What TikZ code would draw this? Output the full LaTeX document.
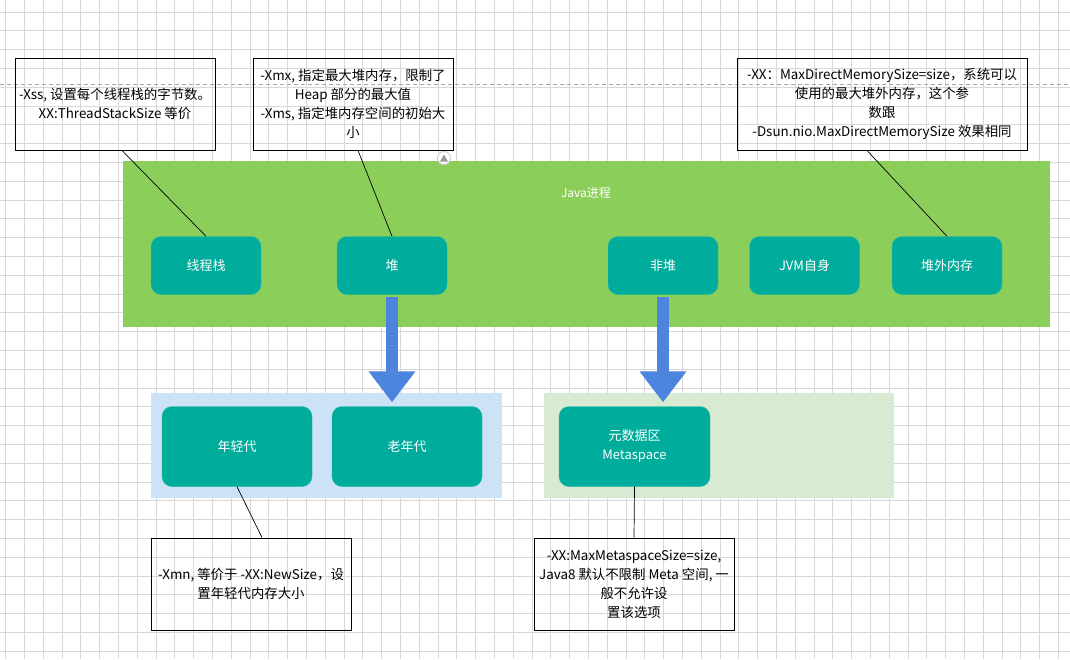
\documentclass[tikz,border=0pt]{standalone}
\usepackage{fontspec}
\setmainfont{Noto Sans CJK SC}
\usetikzlibrary{arrows.meta}
\definecolor{procgreen}{RGB}{139,207,90}
\definecolor{tealnode}{RGB}{0,172,155}
\definecolor{arrowblue}{RGB}{77,132,222}
\definecolor{lightblue}{RGB}{204,226,247}
\definecolor{lightgreen}{RGB}{217,234,211}
\definecolor{gridgray}{RGB}{216,216,216}
\tikzset{
  gridline/.style={draw=gridgray, line width=0.7pt},
  notebox/.style={draw=black, line width=0.9pt, inner sep=0pt, minimum width=200pt, minimum height=92pt,
    align=center, font=\fontsize{13.4}{19}\selectfont, text=black},
  tealbox/.style={fill=tealnode, draw=tealnode!85!white, rounded corners=10pt, inner sep=0pt,
    minimum width=110pt, minimum height=58pt, text=white, align=center, font=\fontsize{13}{19}\selectfont},
  genbox/.style={tealbox, minimum width=150pt, minimum height=80pt},
  conn/.style={draw=black, line width=0.7pt},
  bigarrow/.style={draw=arrowblue, line width=12pt, -{Triangle[width=45pt,length=31pt]},
    shorten <=2pt, shorten >=4pt},
}
\begin{document}
\begin{tikzpicture}[x=1pt,y=-1pt]
\useasboundingbox (0,0) rectangle (1070,659);
\fill[white] (0,0) rectangle (1070,659);
% grid
\foreach \i in {0,...,56} { \draw[gridline] ({5.5+18.8*\i},0) -- ({5.5+18.8*\i},659); }
\foreach \j in {0,...,35} { \draw[gridline] (0,{-6.8+18.8*\j}) -- (1070,{-6.8+18.8*\j}); }
% dashed guide line
\draw[gray!70, dashed, dash pattern=on 4pt off 3pt, line width=0.7pt] (0,84) -- (1070,84);

% top note boxes
\node[notebox] (boxA) at (115,104) {-Xss, 设置每个线程栈的字节数。\\XX:ThreadStackSize 等价};
\node[notebox] (boxB) at (353,104) {-Xmx, 指定最大堆内存，限制了\\Heap 部分的最大值\\-Xms, 指定堆内存空间的初始大\\小};
\node[notebox, minimum width=290pt] (boxC) at (882,104) {-XX：MaxDirectMemorySize=size，系统可以\\使用的最大堆外内存，这个参\\数跟\\-Dsun.nio.MaxDirectMemorySize 效果相同};

% java process container
\node[fill=procgreen, minimum width=927pt, minimum height=166pt, inner sep=0pt] (java) at (586.5,244) {};
\node[text=white, font=\fontsize{12}{14}\selectfont] (javatitle) at (586,193) {Java进程};

% small UI icon
\node[circle, draw=gray!35, fill=white, minimum size=13pt, inner sep=0pt, line width=1pt] (icon) at (444,158) {};
\fill[gray!80] (440,161.5) -- (448,161.5) -- (444,154.5) -- cycle;

% components
\node[tealbox] (tz) at (206,265.5) {线程栈};
\node[tealbox] (heap) at (392,265.5) {堆};
\node[tealbox] (nonheap) at (663,265.5) {非堆};
\node[tealbox] (jvm) at (804.5,265.5) {JVM自身};
\node[tealbox] (offheap) at (947,265.5) {堆外内存};

% lower containers
\node[fill=lightblue, minimum width=351pt, minimum height=105pt, inner sep=0pt] (bluebg) at (326.5,445.5) {};
\node[fill=lightgreen, minimum width=350pt, minimum height=105pt, inner sep=0pt] (greenbg) at (719,445.5) {};

\node[genbox] (young) at (237,446.5) {年轻代};
\node[genbox] (old) at (407,446.5) {老年代};
\node[genbox, minimum width=151pt] (meta) at (634.5,446.5) {元数据区\\Metaspace};

% bottom note boxes
\node[notebox] (boxD) at (251,584) {-Xmn, 等价于 -XX:NewSize，设\\置年轻代内存大小};
\node[notebox] (boxE) at (634,584) {-XX:MaxMetaspaceSize=size,\\Java8 默认不限制 Meta 空间, 一\\般不允许设\\置该选项};

% connectors
\draw[conn] ([xshift=7pt]boxA.south) -- (tz.north);
\draw[conn] ([xshift=5pt]boxB.south) -- (heap.north);
\draw[conn] ([xshift=-15pt]boxC.south) -- (offheap.north);
\draw[conn] (young.south) -- ([xshift=11pt]boxD.north);
\draw[conn] (meta.south) -- (boxE.north);

% big arrows
\draw[bigarrow] (heap.south) -- (heap.south |- old.north);
\draw[bigarrow] (nonheap.south) -- (nonheap.south |- meta.north);
\end{tikzpicture}
\end{document}
